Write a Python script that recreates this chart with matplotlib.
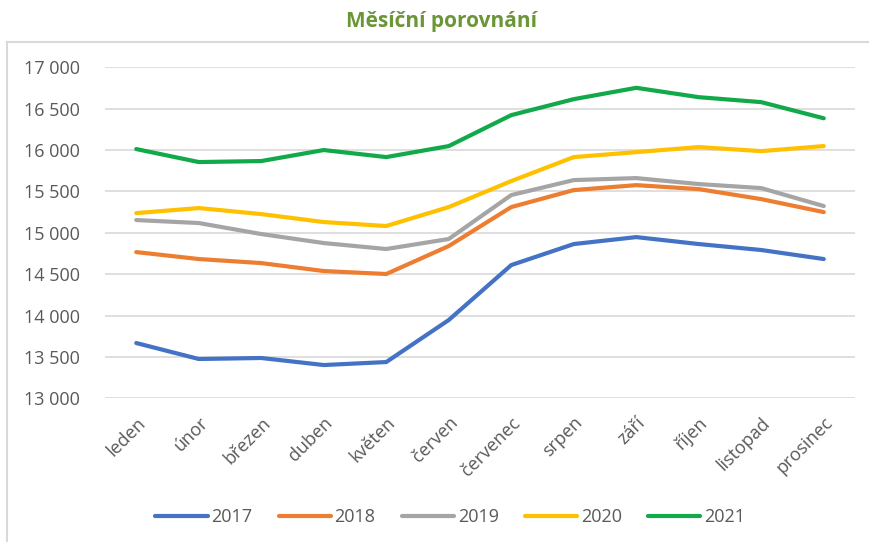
import matplotlib
matplotlib.use("Agg")
import matplotlib.pyplot as plt
from matplotlib.lines import Line2D
from matplotlib.ticker import FuncFormatter

months = ["leden", "únor", "březen", "duben", "květen", "červen",
          "červenec", "srpen", "září", "říjen", "listopad", "prosinec"]
years = ["2017", "2018", "2019", "2020", "2021"]

v2017 = [13668, 13475, 13487, 13402, 13438, 13946, 14610, 14864, 14948, 14864, 14792, 14683]
v2018 = [14767, 14683, 14634, 14538, 14502, 14840, 15311, 15516, 15576, 15528, 15407, 15250]
v2019 = [15154, 15118, 14985, 14876, 14804, 14925, 15456, 15637, 15661, 15589, 15540, 15323]
v2020 = [15238, 15299, 15226, 15130, 15082, 15311, 15625, 15915, 15975, 16036, 15987, 16048]
v2021 = [16012, 15855, 15867, 16000, 15915, 16048, 16422, 16615, 16752, 16639, 16579, 16384]

series = [v2017, v2018, v2019, v2020, v2021]
colors = ["#4472C4", "#ED7D31", "#A5A5A5", "#FFC000", "#12A94A"]

plt.rcParams["font.family"] = ["Open Sans", "DejaVu Sans"]
text_col = "#595959"

fig = plt.figure(figsize=(8.69, 5.42), dpi=100)
ax = fig.add_axes([105 / 869, 1 - 398.3 / 542, 750 / 869, 331 / 542])

x = list(range(len(months)))
for vals, col, yr in zip(series, colors, years):
    ax.plot(x, vals, color=col, lw=3.0, label=yr, solid_capstyle="round", zorder=3)

ax.set_xlim(-0.5, 11.5)
ax.set_ylim(13000, 17000)
ax.set_yticks(range(13000, 17001, 500))
ax.yaxis.set_major_formatter(FuncFormatter(lambda v, p: f"{int(v):,}".replace(",", " ")))
ax.set_xticks(x)
ax.set_xticklabels(months, rotation=45, ha="right", rotation_mode="anchor")
ax.tick_params(axis="both", length=0, labelsize=13, colors=text_col)
ax.tick_params(axis="x", pad=11)
ax.tick_params(axis="y", pad=18)
ax.grid(axis="y", color="#D9D9D9", lw=1.2)
ax.set_axisbelow(True)
for s in ax.spines.values():
    s.set_visible(False)

fig.text(0.508, 1 - 22 / 542, "Měsíční porovnání", ha="center", va="center",
         fontsize=15, fontweight="bold", color="#6A9637")

# border of chart area (left and top edge visible)
fig.add_artist(Line2D([7 / 869, 7 / 869], [0, 1 - 42 / 542], transform=fig.transFigure,
                      color="#D9D9D9", lw=1.5))
fig.add_artist(Line2D([7 / 869, 1], [1 - 42 / 542, 1 - 42 / 542], transform=fig.transFigure,
                      color="#D9D9D9", lw=1.5))

fig.legend(loc="center", bbox_to_anchor=(0.518, 1 - 517 / 542), ncol=5, frameon=False,
           fontsize=13, handlelength=2.9, columnspacing=1.45, handletextpad=0.2,
           labelcolor=text_col)

fig.savefig("out.png", dpi=100)
